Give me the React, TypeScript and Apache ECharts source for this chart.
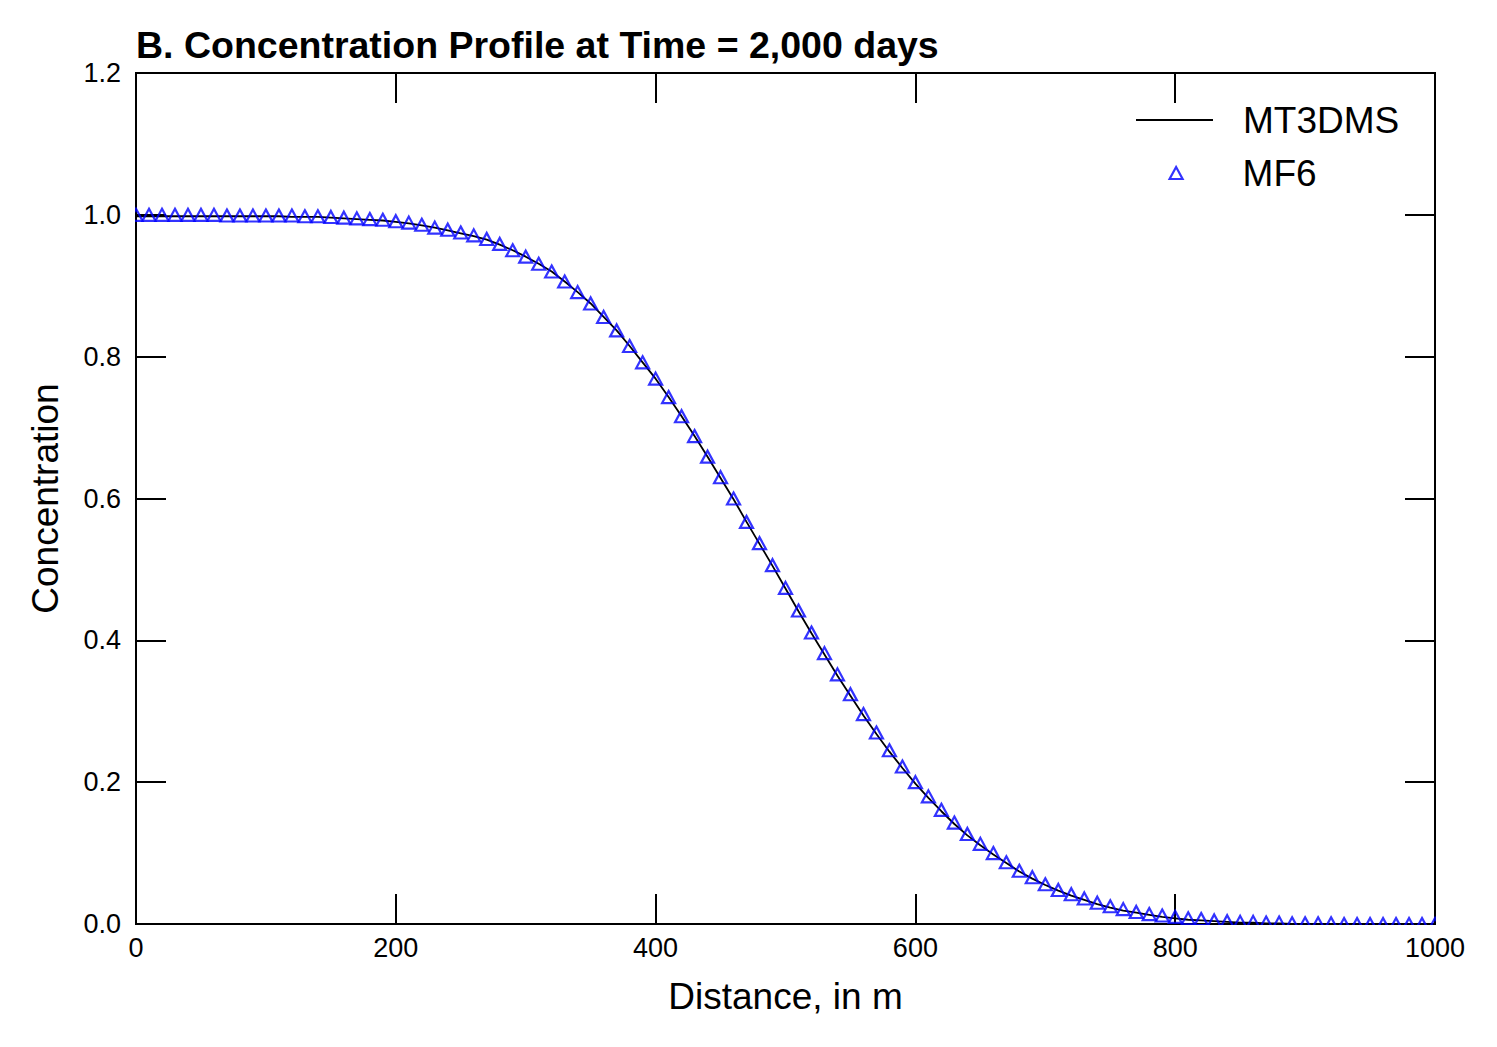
import React, { useEffect, useRef } from "react";
import * as echarts from "echarts";

// Distance along the column, in metres (cell centres every 10 m)
const distance = [
  0, 10, 20, 30, 40, 50, 60, 70, 80, 90,
  100, 110, 120, 130, 140, 150, 160, 170, 180, 190,
  200, 210, 220, 230, 240, 250, 260, 270, 280, 290,
  300, 310, 320, 330, 340, 350, 360, 370, 380, 390,
  400, 410, 420, 430, 440, 450, 460, 470, 480, 490,
  500, 510, 520, 530, 540, 550, 560, 570, 580, 590,
  600, 610, 620, 630, 640, 650, 660, 670, 680, 690,
  700, 710, 720, 730, 740, 750, 760, 770, 780, 790,
  800, 810, 820, 830, 840, 850, 860, 870, 880, 890,
  900, 910, 920, 930, 940, 950, 960, 970, 980, 990,
  1000,
];

// MF6 simulated concentration
const mf6Conc = [
  1.0, 1.0, 1.0, 1.0, 1.0, 1.0, 1.0, 0.999, 0.999, 0.999,
  0.999, 0.999, 0.999, 0.998, 0.998, 0.997, 0.996, 0.995, 0.994, 0.993,
  0.991, 0.989, 0.986, 0.982, 0.979, 0.975, 0.971, 0.966, 0.959, 0.95,
  0.941, 0.931, 0.92, 0.906, 0.891, 0.875, 0.856, 0.837, 0.815, 0.792,
  0.769, 0.743, 0.716, 0.688, 0.659, 0.63, 0.6, 0.567, 0.537, 0.506,
  0.474, 0.442, 0.411, 0.382, 0.352, 0.324, 0.296, 0.27, 0.245, 0.222,
  0.2, 0.18, 0.161, 0.143, 0.127, 0.113, 0.1, 0.087, 0.075, 0.066,
  0.056, 0.048, 0.042, 0.036, 0.03, 0.025, 0.021, 0.017, 0.014, 0.012,
  0.01, 0.008, 0.007, 0.005, 0.004, 0.003, 0.003, 0.002, 0.002, 0.001,
  0.001, 0.001, 0.001, 0.0, 0.0, 0.0, 0.0, 0.0, 0.0, 0.0,
  0.0,
];

// MT3DMS simulated concentration
const mt3dmsConc = [
  0.998, 0.998, 0.998, 0.998, 0.998, 0.998, 0.998, 0.998, 0.998, 0.998,
  0.998, 0.998, 0.997, 0.997, 0.997, 0.996, 0.995, 0.994, 0.993, 0.992,
  0.99, 0.988, 0.985, 0.982, 0.978, 0.974, 0.97, 0.965, 0.958, 0.95,
  0.941, 0.931, 0.92, 0.906, 0.891, 0.875, 0.856, 0.837, 0.815, 0.792,
  0.769, 0.743, 0.716, 0.688, 0.659, 0.629, 0.599, 0.567, 0.536, 0.505,
  0.473, 0.441, 0.41, 0.38, 0.35, 0.322, 0.294, 0.268, 0.243, 0.22,
  0.198, 0.178, 0.159, 0.141, 0.125, 0.111, 0.098, 0.086, 0.074, 0.064,
  0.055, 0.047, 0.04, 0.034, 0.028, 0.023, 0.019, 0.016, 0.013, 0.01,
  0.008, 0.006, 0.005, 0.004, 0.003, 0.002, 0.002, 0.001, 0.001, 0.0,
  0.0, 0.0, 0.0, 0.0, 0.0, 0.0, 0.0, 0.0, 0.0, 0.0,
  0.0,
];

const titleText = "B. Concentration Profile at Time = 2,000 days";
const xName = "Distance, in m";
const yName = "Concentration";

const FONT = "'Liberation Sans', Arial, Helvetica, sans-serif";

export default function App() {
  const ref = useRef<HTMLDivElement>(null);

  useEffect(() => {
    document.body.style.margin = "0";
    if (!ref.current) return;
    const chart = echarts.init(ref.current, null, { renderer: "svg" });

    const tickStyle = { show: true, inside: true, length: 30, lineStyle: { color: "#000", width: 2 } };
    const axisBase = {
      axisLine: { show: false, onZero: false },
      splitLine: { show: false },
      axisTick: tickStyle,
    };

    chart.setOption({
      animation: false,
      backgroundColor: "#fff",
      textStyle: { fontFamily: FONT, color: "#000" },
      title: {
        text: titleText,
        left: 136,
        top: 26,
        padding: 0,
        textStyle: { fontFamily: FONT, fontSize: 37.5, fontWeight: "bold", color: "#000" },
      },
      grid: {
        left: 136,
        right: 62,
        top: 73,
        bottom: 123,
        show: true,
        borderColor: "#000",
        borderWidth: 2,
        backgroundColor: "transparent",
      },
      legend: [
        {
          data: [{ name: "MT3DMS", icon: "rect" }],
          left: 1136,
          top: 101.5,
          padding: 0,
          itemWidth: 77,
          itemHeight: 2,
          selectedMode: false,
          itemStyle: { color: "#000", borderWidth: 0 },
          textStyle: { fontFamily: FONT, fontSize: 37, color: "#000", padding: [0, 0, 0, 25] },
        },
        {
          data: [{ name: "MF6", icon: "triangle" }],
          left: 1168.5,
          top: 154.5,
          padding: 0,
          itemWidth: 13,
          itemHeight: 12,
          selectedMode: false,
          itemStyle: { color: "rgba(0,0,0,0)", borderColor: "#0000ff", borderWidth: 2.2 },
          textStyle: { fontFamily: FONT, fontSize: 37, color: "#000", padding: [0, 0, 0, 55] },
        },
      ],
      xAxis: [
        {
          type: "value",
          min: 0,
          max: 1000,
          interval: 200,
          position: "bottom",
          name: xName,
          nameLocation: "middle",
          nameGap: 54,
          nameTextStyle: { fontFamily: FONT, fontSize: 37, color: "#000" },
          axisLabel: {
            fontFamily: FONT,
            fontSize: 27,
            color: "#000",
            margin: 10,
            formatter: (v: number) => String(v),
          },
          ...axisBase,
        },
        {
          type: "value",
          min: 0,
          max: 1000,
          interval: 200,
          position: "top",
          axisLabel: { show: false },
          ...axisBase,
        },
      ],
      yAxis: [
        {
          type: "value",
          min: 0,
          max: 1.2,
          interval: 0.2,
          position: "left",
          name: yName,
          nameLocation: "middle",
          nameGap: 72,
          nameTextStyle: { fontFamily: FONT, fontSize: 37, color: "#000" },
          axisLabel: {
            fontFamily: FONT,
            fontSize: 27,
            color: "#000",
            margin: 15,
            formatter: (v: number) => v.toFixed(1),
          },
          ...axisBase,
        },
        {
          type: "value",
          min: 0,
          max: 1.2,
          interval: 0.2,
          position: "right",
          axisLabel: { show: false },
          ...axisBase,
        },
      ],
      series: [
        {
          name: "MT3DMS",
          type: "line",
          xAxisIndex: 0,
          yAxisIndex: 0,
          data: distance.map((d, i) => [d, mt3dmsConc[i]]),
          showSymbol: false,
          symbol: "none",
          color: "#000",
          lineStyle: { color: "#000", width: 1.8 },
          silent: true,
          z: 2,
        },
        {
          name: "MF6",
          type: "scatter",
          xAxisIndex: 0,
          yAxisIndex: 0,
          data: distance.map((d, i) => [d, mf6Conc[i]]),
          symbol: "triangle",
          symbolSize: [13, 12],
          itemStyle: { color: "rgba(0,0,0,0)", borderColor: "#0000ff", borderWidth: 2.2 },
          silent: true,
          z: 3,
        },
      ],
      // markers are cut off at the plot frame
      graphic: [
        { type: "rect", z: 100, silent: true, shape: { x: 129, y: 925, width: 1320, height: 8 }, style: { fill: "#fff" } },
        { type: "rect", z: 100, silent: true, shape: { x: 124, y: 200, width: 11, height: 30 }, style: { fill: "#fff" } },
        { type: "rect", z: 100, silent: true, shape: { x: 1436, y: 905, width: 12, height: 28 }, style: { fill: "#fff" } },
      ],
    });

    return () => chart.dispose();
  }, []);

  return (
    <div
      ref={ref}
      style={{ position: "absolute", left: 0, top: 0, width: 1497, height: 1047, background: "#fff" }}
    />
  );
}
